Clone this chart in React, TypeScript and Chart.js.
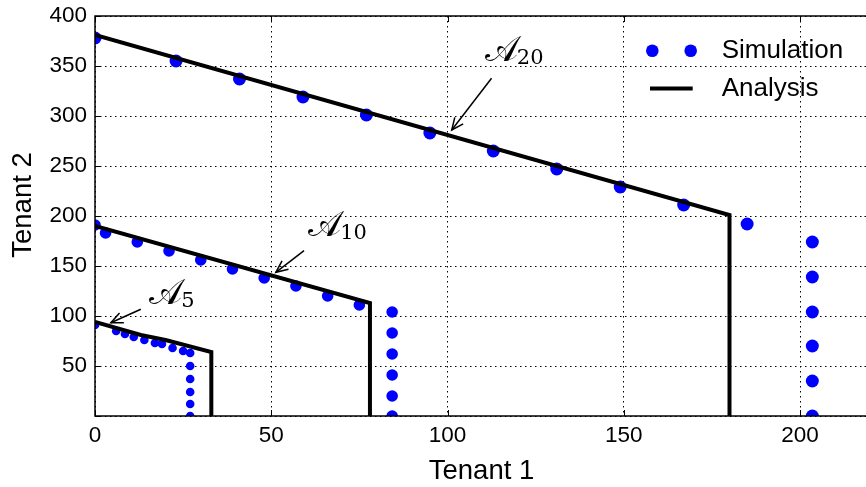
import React, { useEffect, useRef } from "react";
import { Chart, registerables } from "chart.js";

Chart.register(...registerables);

// ---- data ----
const sim20X = [0, 23, 41, 59, 77, 95, 113, 131, 149, 167, 185, 203.5, 203.5, 203.5, 203.5, 203.5, 203.5];
const sim20Y = [378, 355, 337, 319, 301, 283, 265, 247, 229, 211, 192, 174, 139, 104, 70, 35, 0];

const sim10X = [0, 3, 12, 21, 30, 39, 48, 57, 66, 75, 84.3, 84.3, 84.3, 84.3, 84.3, 84.3];
const sim10Y = [191, 183, 174, 165, 156, 147, 138, 130, 120, 111, 104, 83, 62, 41, 20, 0];

const sim5X = [0, 6, 8.5, 11, 14, 17, 19, 22, 25, 27, 27, 27, 27, 27, 27];
const sim5Y = [91, 85, 82, 79, 76, 73, 72, 68, 65, 63, 50, 37, 24, 12, 0];

const ana20X = [0, 180, 180];
const ana20Y = [381, 201, 0];

const ana10X = [0, 78, 78];
const ana10Y = [190, 113, 0];

const ana5X = [0, 13, 20, 33, 33];
const ana5Y = [94, 81, 76, 64, 0];

const xTickValues = [0, 50, 100, 150, 200];
const yTickValues = [0, 50, 100, 150, 200, 250, 300, 350, 400];

const xTitle = "Tenant 1";
const yTitle = "Tenant 2";
const legendLabels = ["Simulation", "Analysis"];

// annotation labels (subscript), text anchor, arrow tail and tip in data units
const annoSubs = ["20", "10", "5"];
const annoText = [[110.6, 355], [60.5, 180.5], [15.4, 112.5]];
const annoTail = [[112.5, 337.7], [59.3, 165.3], [13, 106.7]];
const annoTip = [[101.2, 286], [51.3, 143.7], [4.5, 93.3]];

const zip = (xs: number[], ys: number[]) => xs.map((x, i) => ({ x, y: ys[i] }));

const BLUE = "#0000ff";
const SANS = "'Liberation Sans', Arial, Helvetica, sans-serif";

const overlayPlugin = {
  id: "overlay",
  afterDatasetsDraw(chart: any) {
    const { ctx, chartArea: a, scales } = chart;
    const xs = scales.x;
    const ys = scales.y;
    ctx.save();
    ctx.strokeStyle = "#000";
    ctx.fillStyle = "#000";
    // inward ticks
    ctx.lineWidth = 1;
    const seg = (x1: number, y1: number, x2: number, y2: number) => {
      ctx.beginPath();
      ctx.moveTo(x1, y1);
      ctx.lineTo(x2, y2);
      ctx.stroke();
    };
    for (const v of xTickValues) {
      const px = Math.round(xs.getPixelForValue(v)) + 0.5;
      seg(px, a.bottom, px, a.bottom - 6);
      seg(px, a.top, px, a.top + 6);
    }
    for (const v of yTickValues) {
      const py = Math.round(ys.getPixelForValue(v)) + 0.5;
      seg(a.left, py, a.left + 6, py);
      seg(a.right, py, a.right - 6, py);
    }
    // frame
    ctx.lineWidth = 1.5;
    ctx.strokeRect(a.left, a.top, a.right - a.left, a.bottom - a.top);

    // annotations
    for (let i = 0; i < annoSubs.length; i++) {
      const tx = xs.getPixelForValue(annoText[i][0]);
      const ty = ys.getPixelForValue(annoText[i][1]);
      ctx.textBaseline = "alphabetic";
      ctx.textAlign = "left";
      ctx.font = "35px 'DejaVu Serif', 'DejaVu Sans', serif";
      ctx.fillText("𝒜", tx, ty);
      const w = ctx.measureText("𝒜").width;
      ctx.font = "21px 'DejaVu Serif', serif";
      ctx.fillText(annoSubs[i], tx + w - 1, ty + 3);

      const x1 = xs.getPixelForValue(annoTail[i][0]);
      const y1 = ys.getPixelForValue(annoTail[i][1]);
      const x2 = xs.getPixelForValue(annoTip[i][0]);
      const y2 = ys.getPixelForValue(annoTip[i][1]);
      ctx.lineWidth = 1.5;
      seg(x1, y1, x2, y2);
      const ang = Math.atan2(y2 - y1, x2 - x1);
      const hl = 13;
      const ha = 0.42;
      ctx.beginPath();
      ctx.moveTo(x2 - hl * Math.cos(ang - ha), y2 - hl * Math.sin(ang - ha));
      ctx.lineTo(x2, y2);
      ctx.lineTo(x2 - hl * Math.cos(ang + ha), y2 - hl * Math.sin(ang + ha));
      ctx.stroke();
    }

    // legend
    ctx.fillStyle = BLUE;
    for (const cx of [652.3, 690.7]) {
      ctx.beginPath();
      ctx.arc(cx, 50.7, 6.3, 0, Math.PI * 2);
      ctx.fill();
    }
    ctx.strokeStyle = "#000";
    ctx.lineWidth = 4;
    seg(650, 88.5, 692.7, 88.5);
    ctx.fillStyle = "#000";
    ctx.font = `26px ${SANS}`;
    ctx.textAlign = "left";
    ctx.textBaseline = "middle";
    ctx.fillText(legendLabels[0], 721.7, 50.5);
    ctx.fillText(legendLabels[1], 721.7, 88.8);

    // axis titles
    ctx.font = `27.5px ${SANS}`;
    ctx.textAlign = "center";
    ctx.textBaseline = "alphabetic";
    ctx.fillText(xTitle, 481.5, 479);
    ctx.save();
    ctx.translate(31, 205);
    ctx.rotate(-Math.PI / 2);
    ctx.fillText(yTitle, 0, 0);
    ctx.restore();

    ctx.restore();
  },
};

export default function App() {
  const ref = useRef<HTMLCanvasElement | null>(null);
  useEffect(() => {
    if (!ref.current) return;
    const pointDs = (xs: number[], ys: number[], r: number) => ({
      data: zip(xs, ys),
      showLine: false,
      pointRadius: r,
      pointBackgroundColor: BLUE,
      pointBorderWidth: 0,
      pointHoverRadius: r,
      clip: 0,
      order: 2,
    });
    const lineDs = (xs: number[], ys: number[]) => ({
      data: zip(xs, ys),
      showLine: true,
      borderColor: "#000",
      borderWidth: 4,
      pointRadius: 0,
      pointHoverRadius: 0,
      fill: false,
      tension: 0,
      borderJoinStyle: "miter",
      clip: 0,
      order: 1,
    });
    const chart = new Chart(ref.current, {
      type: "scatter",
      data: {
        datasets: [
          pointDs(sim20X, sim20Y, 6.5),
          pointDs(sim10X, sim10Y, 5.8),
          pointDs(sim5X, sim5Y, 4.3),
          lineDs(ana20X, ana20Y),
          lineDs(ana10X, ana10Y),
          lineDs(ana5X, ana5Y),
        ] as any,
      },
      options: {
        animation: false,
        responsive: false,
        devicePixelRatio: 1,
        events: [],
        layout: { padding: { top: 16, left: 0, right: 0, bottom: 0 } },
        plugins: {
          legend: { display: false },
          tooltip: { enabled: false },
        },
        scales: {
          x: {
            type: "linear",
            min: 0,
            max: 220,
            afterBuildTicks: (s: any) => {
              s.ticks = xTickValues.map((v) => ({ value: v }));
            },
            afterFit: (s: any) => {
              s.height = 71;
              s.paddingLeft = 0;
              s.paddingRight = 0;
            },
            grid: { color: "#000", lineWidth: 1, drawTicks: false },
            border: { display: false, dash: [1.5, 3.5] },
            ticks: {
              autoSkip: false,
              maxRotation: 0,
              padding: 6,
              color: "#000",
              font: { family: SANS, size: 22.5 },
            },
          },
          y: {
            type: "linear",
            min: 0,
            max: 400,
            afterBuildTicks: (s: any) => {
              s.ticks = yTickValues.map((v) => ({ value: v }));
            },
            afterFit: (s: any) => {
              s.width = 95;
              s.paddingTop = 0;
              s.paddingBottom = 0;
            },
            grid: { color: "#000", lineWidth: 1, drawTicks: false },
            border: { display: false, dash: [1.5, 3.5] },
            ticks: {
              autoSkip: false,
              padding: 8,
              color: "#000",
              font: { family: SANS, size: 22.5 },
              callback: (v: any) => (v === 0 ? "" : String(v)),
            },
          },
        },
      },
      plugins: [overlayPlugin],
    } as any);
    return () => chart.destroy();
  }, []);
  return (
    <div style={{ position: "fixed", left: 0, top: 0, width: 866, height: 487, overflow: "hidden", background: "#fff" }}>
      <canvas ref={ref} width={877} height={487} style={{ display: "block", width: 877, height: 487 }} />
    </div>
  );
}
